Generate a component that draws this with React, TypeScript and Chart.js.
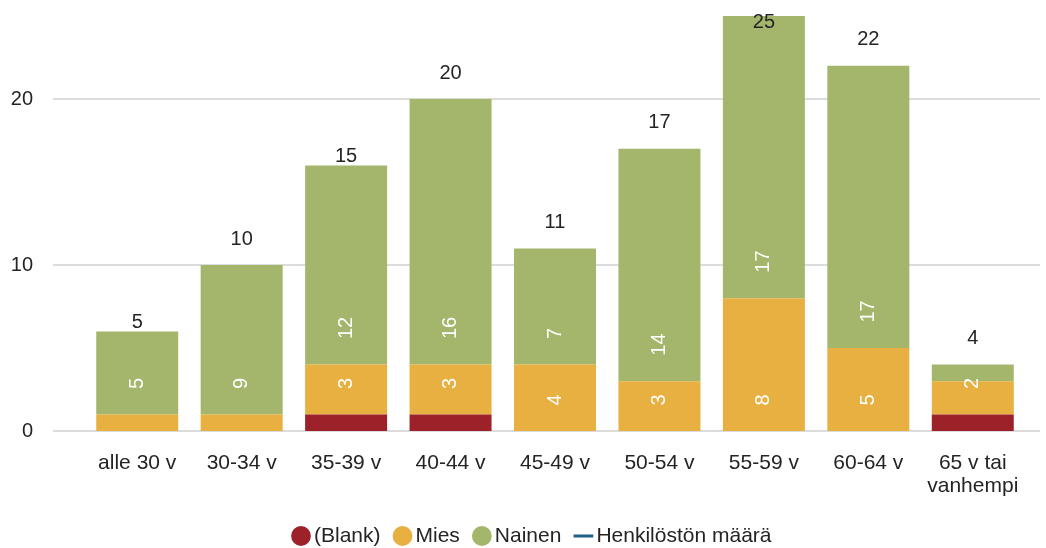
import React, { useEffect, useRef } from 'react';
import { Chart, registerables } from 'chart.js';

Chart.register(...registerables);

const categories: (string | string[])[] = [
  'alle 30 v',
  '30-34 v',
  '35-39 v',
  '40-44 v',
  '45-49 v',
  '50-54 v',
  '55-59 v',
  '60-64 v',
  ['65 v tai', 'vanhempi'],
];
const blankValues = [0, 0, 1, 1, 0, 0, 0, 0, 1];
const miesValues = [1, 1, 3, 3, 4, 3, 8, 5, 2];
const nainenValues = [5, 9, 12, 16, 7, 14, 17, 17, 1];
const totalValues = [5, 10, 15, 20, 11, 17, 25, 22, 4];
const yTicks = [0, 10, 20];

const FONT = "'Liberation Sans', Arial, sans-serif";
const TEXT = '#252423';

const gridPlugin = {
  id: 'customGrid',
  beforeDatasetsDraw(chart: any) {
    const { ctx, chartArea, scales } = chart;
    const ys = scales.y;
    ctx.save();
    ctx.strokeStyle = '#dcdcdc';
    ctx.lineWidth = 2;
    yTicks.forEach((v) => {
      const py = Math.round(ys.getPixelForValue(v));
      ctx.beginPath();
      ctx.moveTo(chartArea.left - 32, py);
      ctx.lineTo(chartArea.right + 15, py);
      ctx.stroke();
    });
    ctx.restore();
  },
};

const legendShiftPlugin = {
  id: 'legendShift',
  afterLayout(chart: any) {
    if (chart.legend) {
      chart.legend.left += 45;
    }
  },
};

const labelPlugin = {
  id: 'valueLabels',
  afterDatasetsDraw(chart: any) {
    const { ctx, chartArea } = chart;
    ctx.save();
    [0, 1, 2].forEach((di) => {
      const meta = chart.getDatasetMeta(di);
      const data = chart.data.datasets[di].data as number[];
      meta.data.forEach((el: any, i: number) => {
        const v = data[i];
        if (!v || v < 2) return;
        ctx.save();
        ctx.translate(el.x, el.base - 25.5);
        ctx.rotate(-Math.PI / 2);
        ctx.font = `20px ${FONT}`;
        ctx.fillStyle = '#ffffff';
        ctx.textAlign = 'left';
        ctx.textBaseline = 'middle';
        ctx.fillText(String(v), 0, 0);
        ctx.restore();
      });
    });
    const lineMeta = chart.getDatasetMeta(3);
    lineMeta.data.forEach((pt: any, i: number) => {
      const y = Math.max(pt.y - 26, chartArea.top + 6);
      ctx.font = `20px ${FONT}`;
      ctx.fillStyle = TEXT;
      ctx.textAlign = 'center';
      ctx.textBaseline = 'middle';
      ctx.fillText(String(totalValues[i]), pt.x, y);
    });
    ctx.restore();
  },
};

export default function App() {
  const ref = useRef<HTMLCanvasElement | null>(null);

  useEffect(() => {
    if (!ref.current) return;
    Chart.defaults.font.family = FONT;
    Chart.defaults.color = TEXT;
    const chart = new Chart(ref.current, {
      type: 'bar',
      data: {
        labels: categories as any,
        datasets: [
          {
            label: '(Blank)',
            data: blankValues,
            backgroundColor: '#9C2129',
            pointStyle: 'circle',
            stack: 's',
          } as any,
          {
            label: 'Mies',
            data: miesValues,
            backgroundColor: '#E7B040',
            pointStyle: 'circle',
            stack: 's',
          },
          {
            label: 'Nainen',
            data: nainenValues,
            backgroundColor: '#A4B66C',
            pointStyle: 'circle',
            stack: 's',
          },
          {
            type: 'line',
            label: 'Henkilöstön määrä',
            data: totalValues,
            borderColor: '#1F5F8B',
            backgroundColor: '#1F5F8B',
            borderWidth: 3,
            pointRadius: 0,
            showLine: false,
            pointStyle: 'line',
            stack: 'total',
          } as any,
        ],
      },
      options: {
        animation: false,
        responsive: false,
        layout: { padding: { top: 16, right: 21, left: 0, bottom: 0 } },
        datasets: {
          bar: { categoryPercentage: 1, barPercentage: 0.785, borderWidth: 0 },
        },
        plugins: {
          tooltip: { enabled: false },
          legend: {
            position: 'bottom',
            maxHeight: 42,
            labels: {
              usePointStyle: true,
              boxWidth: 5,
              boxHeight: 14,
              padding: 19.5,
              color: TEXT,
              font: { size: 21, family: FONT },
            },
          },
        },
        scales: {
          x: {
            stacked: true,
            grid: { display: false, drawTicks: false },
            border: { display: false },
            ticks: {
              padding: 20,
              color: TEXT,
              maxRotation: 0,
              autoSkip: false,
              font: { size: 21, family: FONT, lineHeight: 1.12 },
            },
            afterFit: (s: any) => {
              s.height = 75;
            },
          },
          y: {
            stacked: true,
            min: 0,
            max: 25,
            grid: { display: false, drawTicks: true, tickLength: 50 },
            border: { display: false },
            ticks: {
              stepSize: 10,
              padding: 2,
              color: TEXT,
              font: { size: 20, family: FONT },
            },
            afterBuildTicks: (s: any) => {
              s.ticks = s.ticks.filter((t: any) => yTicks.includes(t.value));
            },
            afterFit: (s: any) => {
              s.width = 85;
            },
          },
        },
      } as any,
      plugins: [gridPlugin, labelPlugin, legendShiftPlugin],
    });
    return () => chart.destroy();
  }, []);

  return (
    <div style={{ position: 'fixed', left: 0, top: 0, width: 1046, height: 548, background: '#fff' }}>
      <canvas ref={ref} width={1046} height={548} style={{ display: 'block' }} />
    </div>
  );
}
